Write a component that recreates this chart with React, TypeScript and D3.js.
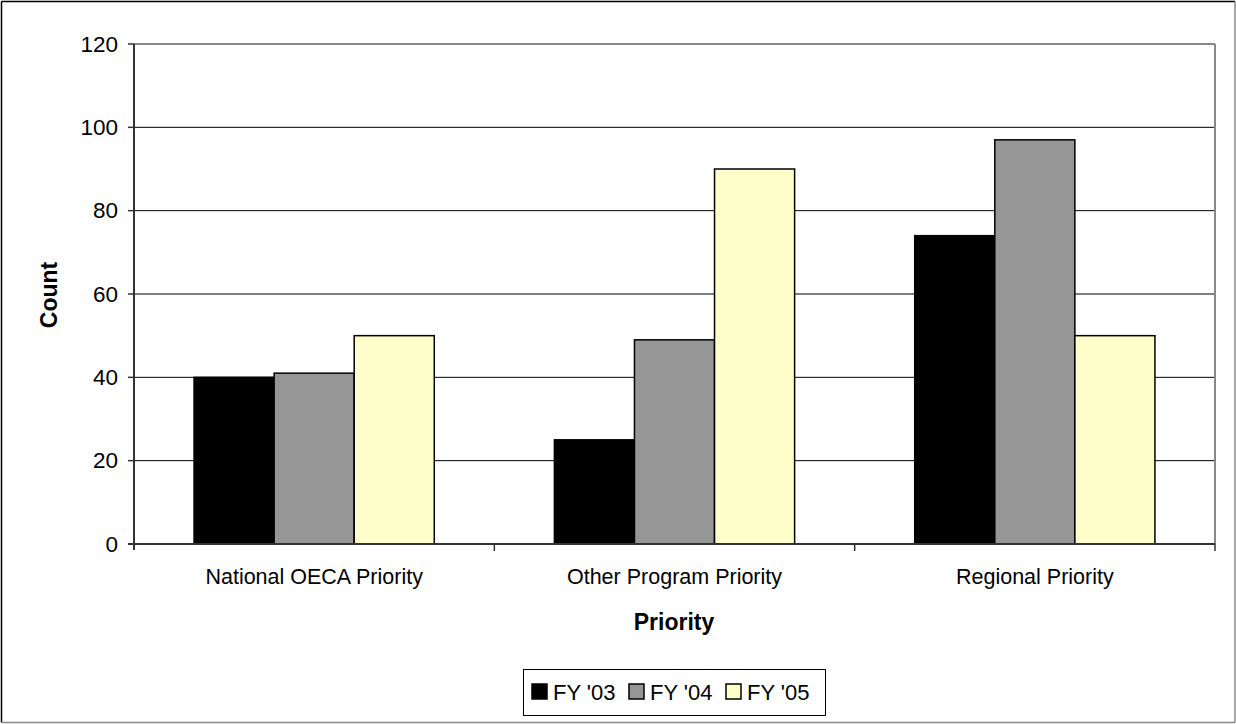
import React from "react";
import * as d3 from "d3";

const categories = ["National OECA Priority", "Other Program Priority", "Regional Priority"];
const seriesNames = ["FY '03", "FY '04", "FY '05"];
const fy03 = [40, 25, 74];
const fy04 = [41, 49, 97];
const fy05 = [50, 90, 50];
const yTicks = [0, 20, 40, 60, 80, 100, 120];
const colors = ["#000000", "#969696", "#FFFFCC"];

const W = 1236;
const H = 724;
const plot = { left: 134, right: 1215, top: 44, bottom: 544 };
const FONT = "'Liberation Sans', Arial, sans-serif";

export default function App() {
  const series = [fy03, fy04, fy05];
  const x = d3.scaleBand<string>().domain(categories).range([plot.left, plot.right]).paddingInner(0).paddingOuter(0);
  const y = d3.scaleLinear().domain([0, 120]).range([plot.bottom, plot.top]);
  const groupW = x.bandwidth() * (2 / 3);
  const x1 = d3.scaleBand<number>().domain([0, 1, 2]).range([0, groupW]).padding(0);
  const offset = (x.bandwidth() - groupW) / 2;

  const legendItems = [
    { sx: 532, tx: 553 },
    { sx: 629, tx: 650 },
    { sx: 726, tx: 747 },
  ];

  return (
    <svg width={W} height={H} style={{ position: "absolute", left: 0, top: 0, background: "#fff" }} fontFamily={FONT}>
      {/* outer border */}
      <line x1={1.5} y1={1.5} x2={1235} y2={1.5} stroke="#000" strokeWidth={1.5} />
      <line x1={1.5} y1={1.5} x2={1.5} y2={722.5} stroke="#000" strokeWidth={1.5} />
      <line x1={1235} y1={1.5} x2={1235} y2={722.5} stroke="#888" strokeWidth={1.5} />
      <line x1={1.5} y1={722.5} x2={1235} y2={722.5} stroke="#888" strokeWidth={1.5} />

      {/* gridlines */}
      {yTicks.filter((t) => t > 0 && t < 120).map((t) => (
        <line key={t} x1={plot.left} x2={plot.right} y1={y(t)} y2={y(t)} stroke="#000" strokeWidth={1} />
      ))}
      {/* plot border top/right */}
      <line x1={plot.left} x2={plot.right} y1={y(120)} y2={y(120)} stroke="#888" strokeWidth={2} />
      <line x1={plot.right} x2={plot.right} y1={plot.top} y2={plot.bottom} stroke="#888" strokeWidth={2} />

      {/* bars */}
      {categories.map((c, ci) => (
        <g key={c}>
          {series.map((s, si) => (
            <rect
              key={si}
              x={(x(c) as number) + offset + (x1(si) as number)}
              y={y(s[ci])}
              width={x1.bandwidth()}
              height={y(0) - y(s[ci])}
              fill={colors[si]}
              stroke="#000"
              strokeWidth={1.5}
            />
          ))}
        </g>
      ))}

      {/* axes */}
      <line x1={plot.left} x2={plot.left} y1={plot.top} y2={plot.bottom + 6} stroke="#333" strokeWidth={2} />
      <line x1={plot.left - 6} x2={plot.right} y1={plot.bottom} y2={plot.bottom} stroke="#333" strokeWidth={2} />
      {yTicks.map((t) => (
        <g key={t}>
          <line x1={plot.left - 6} x2={plot.left} y1={y(t)} y2={y(t)} stroke="#333" strokeWidth={1.5} />
          <text x={118} y={y(t) + 7.5} textAnchor="end" fontSize={22.5}>{t}</text>
        </g>
      ))}
      {categories.map((c) => (
        <line key={c} x1={(x(c) as number) + x.bandwidth()} x2={(x(c) as number) + x.bandwidth()} y1={plot.bottom} y2={plot.bottom + 7} stroke="#333" strokeWidth={1.5} />
      ))}
      {categories.map((c) => (
        <text key={c} x={(x(c) as number) + x.bandwidth() / 2} y={584} textAnchor="middle" fontSize={21.5}>{c}</text>
      ))}

      <text x={674} y={630} textAnchor="middle" fontSize={23} fontWeight="bold">Priority</text>
      <text transform={`translate(57,295) rotate(-90)`} textAnchor="middle" fontSize={23} fontWeight="bold">Count</text>

      {/* legend */}
      <rect x={523.5} y={669.5} width={302} height={46} fill="#fff" stroke="#000" strokeWidth={1} />
      {seriesNames.map((n, i) => (
        <g key={n}>
          <rect x={legendItems[i].sx} y={684} width={15} height={15} fill={colors[i]} stroke="#000" strokeWidth={1.5} />
          <text x={legendItems[i].tx} y={700} fontSize={22}>{n}</text>
        </g>
      ))}
    </svg>
  );
}
